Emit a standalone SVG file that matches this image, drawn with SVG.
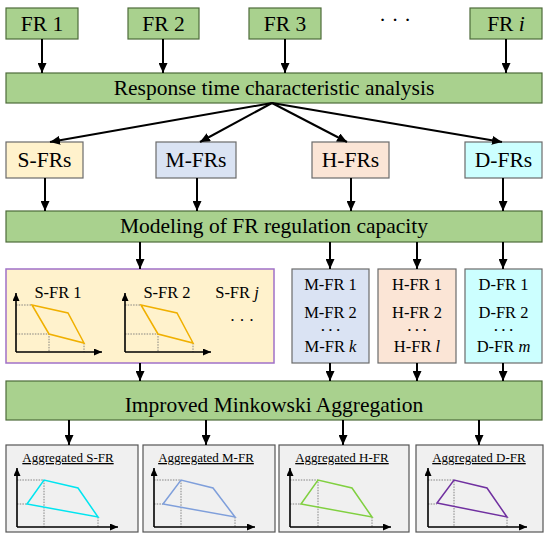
<svg xmlns="http://www.w3.org/2000/svg" width="550" height="537" viewBox="0 0 550 537">
<defs>
<marker id="ah" markerWidth="10" markerHeight="9" refX="10" refY="4.5" orient="auto" markerUnits="userSpaceOnUse"><path d="M0,0 L10,4.5 L0,9 z" fill="#000"/></marker>
<marker id="ax" markerWidth="8" markerHeight="7" refX="8" refY="3.5" orient="auto" markerUnits="userSpaceOnUse"><path d="M0,0 L8,3.5 L0,7 z" fill="#000"/></marker>
<style>
text{font-family:"Liberation Serif","Times New Roman",serif;fill:#000;text-anchor:middle}
.bar{fill:#a9d18e;stroke:#4e6b3a;stroke-width:1.2}
.lbl{font-size:21.5px}
.sm{font-size:16.5px}
.dt{font-size:13px;font-weight:bold}
.tt{font-size:13px;text-decoration:underline}
.box{stroke:#6b6b6b;stroke-width:1.2}
.con line{stroke:#000;stroke-width:2;marker-end:url(#ah)}
.axis{stroke:#000;stroke-width:1.6;fill:none;marker-end:url(#ax)}
.grid{stroke:#777;stroke-width:0.9;stroke-dasharray:1.5 1.2;fill:none}
.poly{fill:none;stroke-width:1.5}
.agg{fill:#f0f0f0;stroke:#555;stroke-width:1.2}
</style>
</defs>
<rect width="550" height="537" fill="#fff"/>

<g id="fr1"><rect class="bar" x="6" y="8" width="72" height="31"/><text class="lbl" x="42" y="31">FR 1</text></g>
<g id="fr2"><rect class="bar" x="128" y="8" width="71" height="31"/><text class="lbl" x="163.5" y="31">FR 2</text></g>
<g id="fr3"><rect class="bar" x="249" y="8" width="72" height="31"/><text class="lbl" x="285" y="31">FR 3</text></g>
<g id="dots1"><text class="lbl" x="395" y="27">· · ·</text></g>
<g id="fri"><rect class="bar" x="470" y="8" width="72" height="31"/><text class="lbl" x="506" y="31">FR <tspan font-style="italic">i</tspan></text></g>

<g id="response"><rect class="bar" x="6" y="73" width="536" height="30"/><text class="lbl" x="274" y="95">Response time characteristic analysis</text></g>

<g id="sfrs"><rect class="box" fill="#fff2cc" x="6" y="142" width="77" height="36"/><text class="lbl" x="44.5" y="167">S-FRs</text></g>
<g id="mfrs"><rect class="box" fill="#dae3f3" x="156" y="142" width="80" height="36"/><text class="lbl" x="196" y="167">M-FRs</text></g>
<g id="hfrs"><rect class="box" fill="#fbe5d6" x="312" y="142" width="77" height="36"/><text class="lbl" x="350.5" y="167">H-FRs</text></g>
<g id="dfrs"><rect class="box" fill="#ccffff" x="465" y="142" width="77" height="36"/><text class="lbl" x="503.5" y="167">D-FRs</text></g>

<g id="modeling"><rect class="bar" x="6" y="211" width="536" height="31"/><text class="lbl" x="274" y="233">Modeling of FR regulation capacity</text></g>

<g id="sfr-group">
<rect fill="#fff2cc" stroke="#a070c8" stroke-width="1.5" x="6" y="269" width="268" height="94"/>
<text class="sm" x="58" y="298">S-FR 1</text>
<text class="sm" x="167" y="298">S-FR 2</text>
<text class="sm" x="237" y="298">S-FR <tspan font-style="italic">j</tspan></text>
<text class="sm" x="242" y="326">· · ·</text>
<g>
<path class="grid" d="M16,305 H32 M16,334 H49 V352 M84,343 V352"/>
<path class="poly" stroke="#f0b000" d="M32,305 L68,313 L84,343 L49,334 Z"/>
<path class="axis" d="M16,352 V293"/><path class="axis" d="M16,352 H102"/>
</g>
<g transform="translate(109,0)">
<path class="grid" d="M16,305 H32 M16,334 H49 V352 M84,343 V352"/>
<path class="poly" stroke="#f0b000" d="M32,305 L68,313 L84,343 L49,334 Z"/>
<path class="axis" d="M16,352 V293"/><path class="axis" d="M16,352 H102"/>
</g>
</g>

<g id="mfr-group"><rect class="box" fill="#dae3f3" x="292" y="269" width="77" height="94"/>
<text class="sm" x="330.5" y="290">M-FR 1</text><text class="sm" x="330.5" y="318">M-FR 2</text><text class="sm dt" x="330.5" y="334">· · ·</text><text class="sm" x="330.5" y="352">M-FR <tspan font-style="italic">k</tspan></text></g>
<g id="hfr-group"><rect class="box" fill="#fbe5d6" x="378" y="269" width="78" height="94"/>
<text class="sm" x="417" y="290">H-FR 1</text><text class="sm" x="417" y="318">H-FR 2</text><text class="sm dt" x="417" y="334">· · ·</text><text class="sm" x="417" y="352">H-FR <tspan font-style="italic">l</tspan></text></g>
<g id="dfr-group"><rect class="box" fill="#ccffff" x="465" y="269" width="77" height="94"/>
<text class="sm" x="503.5" y="290">D-FR 1</text><text class="sm" x="503.5" y="318">D-FR 2</text><text class="sm dt" x="503.5" y="334">· · ·</text><text class="sm" x="503.5" y="352">D-FR <tspan font-style="italic">m</tspan></text></g>

<g id="minkowski"><rect class="bar" x="6" y="381" width="536" height="39"/><text class="lbl" x="274" y="412">Improved Minkowski Aggregation</text></g>

<g id="agg-s"><rect class="agg" x="6" y="445" width="132" height="87"/><text class="tt" x="68" y="462">Aggregated S-FR</text>
<g transform="translate(17,0)"><path class="grid" d="M0,480 H27 V527 M0,504 H10 M81,517 V527"/><path class="poly" stroke="#00e5f0" d="M10,504 L27,480 L61,488 L81,517 Z"/><path class="axis" d="M0,527 V468"/><path class="axis" d="M0,527 H101"/></g></g>
<g id="agg-m"><rect class="agg" x="143" y="445" width="132" height="87"/><text class="tt" x="206" y="462">Aggregated M-FR</text>
<g transform="translate(154,0)"><path class="grid" d="M0,480 H27 V527 M0,504 H9 M81,517 V527"/><path class="poly" stroke="#7f9fdb" d="M9,504 L27,480 L59,488 L81,517 Z"/><path class="axis" d="M0,527 V468"/><path class="axis" d="M0,527 H101"/></g></g>
<g id="agg-h"><rect class="agg" x="279" y="445" width="130" height="87"/><text class="tt" x="342" y="462">Aggregated H-FR</text>
<g transform="translate(290,0)"><path class="grid" d="M0,480 H28 V527 M0,504 H11 M82,517 V527"/><path class="poly" stroke="#80d040" d="M11,504 L28,480 L62,488 L82,517 Z"/><path class="axis" d="M0,527 V468"/><path class="axis" d="M0,527 H101"/></g></g>
<g id="agg-d"><rect class="agg" x="416" y="445" width="127" height="87"/><text class="tt" x="479" y="462">Aggregated D-FR</text>
<g transform="translate(428,0)"><path class="grid" d="M0,480 H26 V527 M0,504 H9 M79,517 V527"/><path class="poly" stroke="#7030a0" d="M9,503 L26,480 L59,488 L79,517 Z"/><path class="axis" d="M0,527 V468"/><path class="axis" d="M0,527 H99"/></g></g>

<g id="connectors" class="con">
<line x1="42" y1="39" x2="42" y2="73"/>
<line x1="163" y1="39" x2="163" y2="73"/>
<line x1="285" y1="39" x2="285" y2="73"/>
<line x1="506" y1="39" x2="506" y2="73"/>
<line x1="272" y1="103" x2="50" y2="142"/>
<line x1="272" y1="103" x2="200" y2="142"/>
<line x1="272" y1="103" x2="347" y2="142"/>
<line x1="272" y1="103" x2="502" y2="142"/>
<line x1="45" y1="178" x2="45" y2="211"/>
<line x1="197" y1="178" x2="197" y2="211"/>
<line x1="351" y1="178" x2="351" y2="211"/>
<line x1="503" y1="178" x2="503" y2="211"/>
<line x1="140" y1="242" x2="140" y2="269"/>
<line x1="330" y1="242" x2="330" y2="269"/>
<line x1="417" y1="242" x2="417" y2="269"/>
<line x1="503" y1="242" x2="503" y2="269"/>
<line x1="140" y1="363" x2="140" y2="381"/>
<line x1="330" y1="363" x2="330" y2="381"/>
<line x1="417" y1="363" x2="417" y2="381"/>
<line x1="503" y1="363" x2="503" y2="381"/>
<line x1="69" y1="420" x2="69" y2="445"/>
<line x1="206" y1="420" x2="206" y2="445"/>
<line x1="343" y1="420" x2="343" y2="445"/>
<line x1="479" y1="420" x2="479" y2="445"/>
</g>
</svg>
